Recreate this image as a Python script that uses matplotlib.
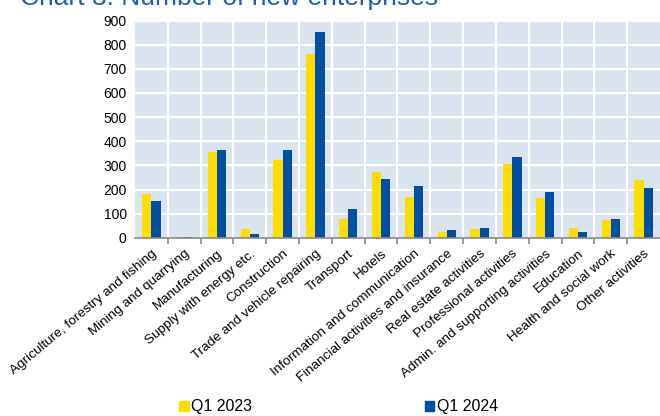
import numpy as np
import matplotlib
matplotlib.use("Agg")
import matplotlib.pyplot as plt
from matplotlib.patches import Patch

plt.rcParams["font.family"] = ["Liberation Sans", "DejaVu Sans"]

categories = [
    "Agriculture, forestry and fishing", "Mining and quarrying", "Manufacturing",
    "Supply with energy etc.", "Construction", "Trade and vehicle repairing",
    "Transport", "Hotels", "Information and communication",
    "Financial activities and insurance", "Real estate activities",
    "Professional activities", "Admin. and supporting activities", "Education",
    "Health and social work", "Other activities",
]
q1_2023 = [183, 2, 355, 39, 322, 762, 79, 271, 170, 24, 35, 308, 167, 43, 76, 238]
q1_2024 = [152, 5, 362, 17, 364, 852, 118, 246, 213, 32, 41, 333, 192, 26, 79, 205]
series_names = ["Q1 2023", "Q1 2024"]

YELLOW = "#FFDD00"
BLUE = "#004FA3"
BG = "#DAE3F0"

fig = plt.figure(figsize=(6.6, 4.16), dpi=100)
ax = fig.add_axes([0.2045, 0.428, 0.7955, 0.5227])
ax.set_facecolor(BG)

x = np.arange(len(categories))
w = 0.28
ax.bar(x - w / 2, q1_2023, w, color=YELLOW, zorder=3)
ax.bar(x + w / 2, q1_2024, w, color=BLUE, zorder=3)

ax.set_xlim(-0.5, len(categories) - 0.5)
ax.set_ylim(0, 900)
ax.set_yticks(range(0, 901, 100))
ax.tick_params(axis="y", length=0, labelsize=10, pad=6)

ax.set_xticks(x)
ax.set_xticklabels(categories, rotation=40, ha="right", rotation_mode="anchor", fontsize=9.7)
ax.tick_params(axis="x", which="major", length=0, pad=7)
ax.set_xticks(x[:-1] + 0.5, minor=True)
ax.xaxis.set_tick_params(which="minor", length=4, width=1.2, color="#888888", direction="out")

ax.grid(axis="y", color="white", linewidth=1.5, zorder=1)
ax.grid(axis="x", which="minor", color="white", linewidth=1.5, zorder=1)
ax.set_axisbelow(True)

for s in ["top", "right", "left"]:
    ax.spines[s].set_visible(False)
ax.spines["bottom"].set_color("#888888")
ax.spines["bottom"].set_linewidth(1.2)
ax.spines["bottom"].set_zorder(4)

fig.text(0.03, 1 - 5.5 / 416, "Chart 3: Number of new enterprises", color="#1F5FB0",
         fontsize=19, va="baseline", ha="left")

handles = [Patch(color=YELLOW), Patch(color=BLUE)]
fig.legend(handles, series_names, loc="center", bbox_to_anchor=(0.513, 1 - 407 / 416),
           ncol=2, frameon=False, fontsize=11.5, handlelength=0.6, handleheight=0.6,
           handletextpad=0.15, columnspacing=10.8)

fig.savefig("out.png", dpi=100)
